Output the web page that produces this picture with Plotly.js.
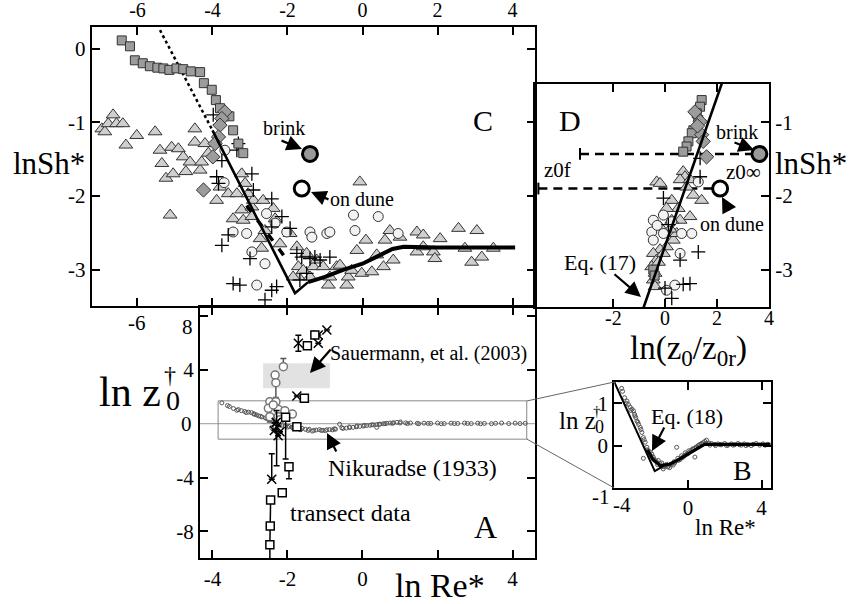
<!DOCTYPE html>
<html>
<head>
<meta charset="utf-8">
<script src="https://cdn.plot.ly/plotly-3.0.1.min.js"></script>
<style>html,body{margin:0;padding:0;background:#fff;}#fig{width:857px;height:604px;}</style>
</head>
<body>
<div id="fig"></div>
<script>
// ---------- Panel C: lnSh* versus ln Re* ----------
const cSqX = [-6.42, -6.2, -6.07, -5.86, -5.67, -5.47, -5.31, -5.15, -4.96, -4.78, -4.58, -4.33, -4.23, -4.02, -3.91, -3.8, -3.55, -3.45, -3.31, -3.18];
const cSqY = [0.11, 0.03, -0.16, -0.2, -0.24, -0.26, -0.27, -0.29, -0.27, -0.28, -0.31, -0.32, -0.47, -0.56, -0.7, -0.81, -0.92, -1.11, -1.29, -1.42];
const cDiaX = [-3.67, -3.75, -3.8, -3.84, -3.93, -3.99, -4.24];
const cDiaY = [-0.86, -0.95, -1.04, -1.2, -1.29, -1.47, -1.92];
const cTriX = [-6.95, -6.87, -6.78, -6.65, -6.56, -6.39, -6.31, -6.02, -5.53, -5.4, -5.35, -5.24, -5.09, -5.05, -4.91, -4.78, -4.71, -4.6, -4.47, -4.47, -4.33, -4.29, -4.2, -4.11, -5.13, -3.89, -3.8, -3.58, -3.35, -3.22, -3.13, -3.05, -3.45, -3.22, -3.18, -2.95, -2.95, -2.91, -2.65, -2.73, -2.69, -2.6, -2.38, -2.33, -2.2, -1.93, -1.75, -1.71, -1.71, -1.58, -1.49, -1.4, -1.31, -1.22, -1.05, -0.91, -0.87, -0.69, -0.6, -0.42, -0.38, -0.29, -0.15, -0.02, -0.07, 0.09, 0.25, 0.38, 0.56, 0.6, 0.73, 0.82, 1.0, 1.45, 1.45, 1.62, 1.62, 1.89, 1.93, 2.07, 2.56, 2.73, 2.91, 3.05, 3.18, 3.49, -1.85];
const cTriY = [-1.09, -1.13, -1.02, -0.9, -1.02, -1.02, -1.31, -1.18, -1.13, -1.38, -1.56, -1.76, -1.34, -1.7, -1.36, -1.47, -1.67, -1.54, -1.09, -1.27, -1.65, -1.54, -1.29, -1.42, -2.26, -2.06, -1.88, -1.97, -1.97, -1.7, -1.83, -1.97, -2.31, -2.19, -2.33, -2.15, -2.28, -2.06, -2.06, -2.58, -2.71, -2.47, -2.17, -2.31, -2.65, -2.51, -2.69, -2.96, -3.1, -3.01, -2.78, -3.1, -2.96, -2.87, -2.96, -3.21, -3.1, -2.96, -2.94, -3.21, -3.1, -3.01, -2.74, -3.05, -1.81, -2.6, -3.03, -2.8, -2.96, -2.6, -2.47, -2.87, -2.56, -2.49, -2.76, -2.53, -2.69, -2.76, -2.85, -2.58, -2.44, -2.71, -2.9, -2.47, -2.83, -2.71, -3.1];
const cCircX = [-3.67, -3.69, -3.45, -3.09, -2.95, -2.6, -2.82, -2.56, -2.33, -2.02, -1.4, -1.35, -0.95, -0.87, -0.24, -0.2, 0.42, 0.95];
const cCircY = [-1.38, -1.82, -2.49, -2.51, -2.76, -2.92, -3.21, -2.24, -2.37, -2.49, -2.49, -2.56, -2.51, -2.49, -2.26, -2.47, -2.28, -2.51];
const cPlusX = [-3.98, -3.35, -3.31, -3.75, -3.89, -3.84, -2.95, -2.91, -2.42, -2.15, -1.93, -2.42, -3.58, -3.75, -3.0, -1.75, -1.62, -1.4, -1.27, -1.13, -0.87, -3.45, -3.27, -2.42, -2.29, -2.6, -1.67, -1.49];
const cPlusY = [-0.9, -1.38, -1.29, -1.52, -1.74, -1.83, -1.7, -1.92, -2.04, -2.28, -2.44, -2.42, -2.53, -2.67, -2.85, -2.78, -2.83, -2.85, -2.83, -2.87, -2.83, -3.19, -3.21, -3.28, -3.23, -3.41, -3.14, -3.05];
const brinkReX = [-1.4], brinkShY = [-1.43];
const duneReX = [-1.62], duneShY = [-1.9];
// fitted curve (Eq. 17 mapped onto Re*), its extension and the dashed branch
const cFitThinX = [-4.0, -1.8, -1.45];
const cFitThinY = [-1.11, -3.32, -3.17];
const cFitThickX = [-1.45, -1.0, -0.5, 0.0, 0.4, 0.8, 1.1, 2.0, 4.07];
const cFitThickY = [-3.17, -3.1, -3.0, -2.92, -2.82, -2.72, -2.69, -2.7, -2.7];
const cDotX = [-5.4, -4.0];
const cDotY = [0.25, -1.11];
const cDashX = [-3.09, -1.98];
const cDashY = [-2.13, -2.89];
const cTopTicks = [-6, -4, -2, 0, 2, 4];
const cYTicks = [0, -1, -2, -3];

// ---------- Panel D: lnSh* versus ln(z0/z0r) ----------
const dSqX = [1.41, 1.35, 1.22, 1.28, 1.09, 1.03, 0.9, 0.83, 0.7, -0.45, -0.4];
const dSqY = [-0.7, -0.79, -0.88, -0.97, -1.11, -1.15, -1.26, -1.33, -1.4, -3.0, -3.08];
const dDiaX = [1.15, 1.35, 1.41, 1.47, 1.6, 1.25];
const dDiaY = [-0.86, -0.99, -1.17, -1.26, -1.47, -1.05];
const dTriX = [-0.32, -0.19, 0.7, 0.77, 0.58, 0.96, 0.83, 1.09, 1.41, 0.26, 0.51, 0.06, 0.96, 0.58, 0.26, -0.19, 0.32, 0.06, -0.19, -0.45, -0.32, -0.51, -0.38, -0.45, -0.38, -0.06, 0.45, 0.2, -0.25];
const dTriY = [-1.81, -1.83, -1.67, -1.74, -1.78, -1.78, -1.88, -1.99, -2.06, -2.06, -2.17, -2.17, -2.28, -2.33, -2.33, -2.42, -2.6, -2.69, -2.73, -2.78, -2.87, -2.96, -3.05, -3.14, -3.23, -2.78, -2.51, -2.45, -2.9];
const dCircX = [1.28, -0.06, -0.45, -0.51, -0.06, 0.64, 1.03, -0.45, 0.58, 0.38, 0.06, -0.3, 0.25];
const dCircY = [-1.81, -2.26, -2.33, -2.49, -2.51, -2.51, -2.51, -2.6, -2.78, -3.21, -3.28, -2.4, -2.35];
const dPlusX = [-0.06, 0.13, 1.28, 0.58, 0.96, 0.26, 1.35, 1.35, 0.0, 0.7];
const dPlusY = [-2.03, -2.39, -2.76, -2.87, -3.19, -3.39, -1.49, -1.74, -3.25, -3.2];
const dFitX = [-0.9, 2.25];
const dFitY = [-3.59, -0.41];
const brinkZX = [3.63], duneZX = [2.12];
const z0fStartBrink = -3.27, z0fStartDune = -4.87;
const dXTicks = [-2, 0, 2, 4];
const dYTicks = [-1, -2, -3];

// ---------- Panel A and B: ln z0+ versus ln Re* ----------
// Nikuradse (1933) sand-roughened pipe data
const nikX = [-3.75, -3.55, -3.44, -3.31, -3.23, -3.14, -3.04, -2.96, -2.9, -2.83, -2.77, -2.68, -2.59, -2.5, -2.42, -2.32, -2.23, -2.15, -2.42, -2.05, -1.96, -1.88, -1.78, -1.7, -1.61, -1.52, -1.42, -1.34, -1.24, -1.15, -1.06, -0.99, -0.88, -0.8, -0.72, -0.61, -0.52, -0.43, -0.34, -0.25, -0.16, -0.07, 0.02, 0.11, 0.2, 0.29, 0.38, 0.38, 0.47, 0.56, 0.65, 0.74, 0.83, 0.92, 1.01, 1.15, 1.28, 1.46, 1.64, 1.82, 2.0, 2.18, 2.36, 2.54, 2.72, 2.9, 3.07, 3.25, 3.44, 3.71, 3.9, 4.07, 4.34,
  -3.6, -3.35, -3.1, -2.88, -2.72, -2.55, -2.38, -2.2, -2.0, -1.85, -1.65, -1.45, -1.3, -1.1, -0.95, -0.75, -0.55, -0.35, -0.15, 0.05, 0.25, 0.45, 0.6, 0.8, 1.0, 1.2, 1.5, 1.75, 2.1, 2.45, 2.8, 3.15, 3.55, 4.2];
const nikY = [1.55, 1.28, 1.13, 1.05, 0.97, 0.91, 0.86, 0.82, 0.74, 0.66, 0.58, 0.5, 0.43, 0.31, 0.19, 0.08, -0.04, -0.12, -0.3, -0.15, -0.2, -0.27, -0.35, -0.38, -0.35, -0.42, -0.41, -0.55, -0.47, -0.44, -0.49, -0.52, -0.44, -0.46, -0.41, -0.04, -0.35, -0.33, -0.29, -0.27, -0.23, -0.2, -0.18, -0.14, -0.12, -0.08, -0.06, -0.27, -0.03, 0.0, 0.03, 0.05, 0.07, 0.1, 0.13, 0.06, 0.05, 0.03, 0.04, 0.02, 0.05, 0.01, 0.04, 0.02, 0.05, 0.01, 0.04, 0.02, 0.0, 0.05, 0.01, 0.04, 0.03,
  1.35, 1.0, 0.83, 0.7, 0.55, 0.38, 0.14, -0.1, -0.25, -0.32, -0.45, -0.5, -0.5, -0.5, -0.45, -0.38, -0.3, -0.24, -0.17, -0.12, -0.08, -0.04, 0.0, 0.03, 0.05, 0.01, 0.0, 0.02, 0.0, 0.01, 0.02, 0.0, 0.03, 0.01];
// Eq. (18)
const bFitThinX = [-4.0, -1.8, -1.2];
const bFitThinY = [1.5, -0.6, -0.45];
const bFitThickX = [-2.2, -1.9, -1.5, -1.0, -0.5, 0.0, 0.5, 0.9, 1.5, 4.5];
const bFitThickY = [-0.1, -0.33, -0.47, -0.44, -0.33, -0.2, -0.06, 0.03, 0.03, 0.03];
// field estimates
const aCircX = [-2.11, -2.33, -2.31, -2.47, -2.31, -2.51, -2.25, -2.07, -1.87, -2.47, -2.25, -2.38, -2.2];
const aCircY = [4.24, 3.62, 3.05, 1.64, 1.64, 1.14, 1.07, 0.97, 0.72, 0.52, 0.52, 1.4, 0.3];
const aCircUp = [0.6, 0, 0, 0, 0, 0, 0, 0, 0, 0, 0, 0, 0];
const aCircDn = [0, 0, 1.1, 0, 0, 0, 0, 0, 0, 0.4, 0, 0, 0];
const aSqX = [-1.27, -1.47, -1.55, -2.05, -1.75, -1.96, -2.14];
const aSqY = [6.6, 5.8, 1.89, 0.48, -0.22, -3.2, -5.13];
const aSqUp = [0, 0, 0, 0, 0, 0, 0];
const aSqDn = [0, 0, 0, 3.1, 0, 0.9, 0];
const transX = [-2.45, -2.46, -2.47];
const transY = [-5.67, -7.6, -9.0];
const aXX = [-0.95, -1.18, -1.18, -1.71, -1.75, -2.42, -2.29, -2.35, -2.25, -2.3, -2.2];
const aXY = [6.97, 6.6, 5.98, 5.98, 2.06, -4.13, -0.22, -0.5, -0.9, 0.1, -0.6];
const aXUp = [0, 0, 0, 0.6, 0, 1.9, 1.2, 0, 0, 0, 0];
const aXDn = [0, 0, 0, 0.6, 0, 0, 2.9, 0, 0, 0, 0];
const sauerRe = [-2.65, -0.87], sauerZ = [2.63, 4.49];
const zoomRe = [-3.85, 4.38], zoomZ = [-1.15, 1.7];
const aXTicks = [-4, -2, 0, 2, 4], aXText = ['-4', '-2', '0', '', '4'];
const aYTicks = [-8, -4, 4, 8], aYText = ['-8', '-4', '4', ''];
const bXTicks = [-4, 0, 4], bXText = ['', '0', '4'];
const bYTicks = [0, 1];

const W = 857, H = 604;
const SERIF = 'Liberation Serif';
const EDGE = '#333';

function axisBase(extra) {
  return Object.assign({
    showline: true, linecolor: '#000', linewidth: 2, mirror: 'allticks',
    ticks: 'inside', ticklen: 8, tickwidth: 2, tickcolor: '#000',
    showgrid: false, zeroline: false, fixedrange: true,
    tickfont: {family: SERIF, size: 21, color: '#000'}
  }, extra);
}
function pv(px, py) { return {x: px / W, y: 1 - py / H, xref: 'paper', yref: 'paper'}; }
function label(text, px, py, size, extra) {
  return Object.assign(pv(px, py), {text: text, showarrow: false, xanchor: 'center', yanchor: 'middle',
    font: {family: SERIF, size: size, color: '#000'}}, extra || {});
}
function arrow(tx, ty, hx, hy) {
  return Object.assign(pv(hx, hy), {text: '', showarrow: true, arrowhead: 2, arrowsize: 1.4,
    arrowwidth: 2.2, arrowcolor: '#000', ax: tx - hx, ay: ty - hy, standoff: 0});
}

function mk(x, y, xa, ya, symbol, size, fill, extra) {
  return Object.assign({x: x, y: y, xaxis: xa, yaxis: ya, type: 'scatter', mode: 'markers',
    marker: {symbol: symbol, size: size, color: fill, line: {color: EDGE, width: 1}}, hoverinfo: 'skip'}, extra || {});
}
function ln(x, y, xa, ya, width, dash) {
  return {x: x, y: y, xaxis: xa, yaxis: ya, type: 'scatter', mode: 'lines',
    line: {color: '#000', width: width, dash: dash || 'solid'}, hoverinfo: 'skip'};
}

const traces = [
  // C
  ln(cDotX, cDotY, 'x', 'y', 2.5, 'dot'),
  mk(cTriX, cTriY, 'x', 'y', 'triangle-up', 12, '#cfcfcf'),
  mk(cCircX, cCircY, 'x', 'y', 'circle', 10, '#f2f2f2'),
  mk(cPlusX, cPlusY, 'x', 'y', 'cross-thin', 10, '#000', {marker: {symbol: 'cross-thin', size: 10, line: {color: '#000', width: 1.3}}}),
  mk(cSqX, cSqY, 'x', 'y', 'square', 9, '#9c9c9c'),
  mk(cDiaX, cDiaY, 'x', 'y', 'diamond', 11, '#9c9c9c'),
  ln(cFitThinX, cFitThinY, 'x', 'y', 2.6),
  ln(cFitThickX, cFitThickY, 'x', 'y', 4),
  ln(cDashX, cDashY, 'x', 'y', 3.5, '8px,10px'),
  mk(brinkReX, brinkShY, 'x', 'y', 'circle', 15, '#999', {marker: {symbol: 'circle', size: 15, color: '#999', line: {color: '#000', width: 3}}}),
  mk(duneReX, duneShY, 'x', 'y', 'circle', 15, '#fff', {marker: {symbol: 'circle', size: 15, color: '#fff', line: {color: '#000', width: 3}}}),
  // D
  ln([z0fStartBrink, brinkZX[0]], [brinkShY[0], brinkShY[0]], 'x2', 'y2', 2.5, '9px,6px'),
  ln([z0fStartDune, duneZX[0]], [duneShY[0], duneShY[0]], 'x2', 'y2', 2.5, '9px,6px'),
  ln([z0fStartBrink, z0fStartBrink], [brinkShY[0] + 0.08, brinkShY[0] - 0.08], 'x2', 'y2', 2),
  ln([z0fStartDune, z0fStartDune], [duneShY[0] + 0.08, duneShY[0] - 0.08], 'x2', 'y2', 2),
  mk(dTriX, dTriY, 'x2', 'y2', 'triangle-up', 12, '#cfcfcf'),
  mk(dCircX, dCircY, 'x2', 'y2', 'circle', 10, '#f2f2f2'),
  mk(dPlusX, dPlusY, 'x2', 'y2', 'cross-thin', 10, '#000', {marker: {symbol: 'cross-thin', size: 10, line: {color: '#000', width: 1.3}}}),
  mk(dSqX, dSqY, 'x2', 'y2', 'square', 9, '#9c9c9c'),
  mk(dDiaX, dDiaY, 'x2', 'y2', 'diamond', 11, '#9c9c9c'),
  ln(dFitX, dFitY, 'x2', 'y2', 2.6),
  mk(brinkZX, brinkShY, 'x2', 'y2', 'circle', 15, '#999', {marker: {symbol: 'circle', size: 15, color: '#999', line: {color: '#000', width: 3}}}),
  mk(duneZX, duneShY, 'x2', 'y2', 'circle', 15, '#fff', {marker: {symbol: 'circle', size: 15, color: '#fff', line: {color: '#000', width: 3}}}),
  // A
  mk(nikX, nikY, 'x3', 'y3', 'circle-open', 4, '#555', {marker: {symbol: 'circle-open', size: 4, color: '#555', line: {width: 1}}}),
  mk(aCircX, aCircY, 'x3', 'y3', 'circle', 8, '#fff', {marker: {symbol: 'circle', size: 8, color: '#fff', line: {color: '#777', width: 1.5}},
    error_y: {type: 'data', symmetric: false, array: aCircUp, arrayminus: aCircDn, color: '#555', thickness: 1.5, width: 3}}),
  mk(transX, transY, 'x3', 'y3', 'square', 8, '#fff', {mode: 'lines+markers', line: {color: '#000', width: 1.5},
    marker: {symbol: 'square', size: 8, color: '#fff', line: {color: '#000', width: 1.5}},
    error_y: {type: 'data', symmetric: false, array: [0, 0, 0], arrayminus: [0, 0, 1.5], color: '#000', thickness: 1.5, width: 0}}),
  mk(aXX, aXY, 'x3', 'y3', 'x-thin', 9, '#000', {marker: {symbol: 'x-thin', size: 9, line: {color: '#000', width: 1.5}},
    error_y: {type: 'data', symmetric: false, array: aXUp, arrayminus: aXDn, color: '#000', thickness: 1.5, width: 3}}),
  mk(aSqX, aSqY, 'x3', 'y3', 'square', 8, '#fff', {marker: {symbol: 'square', size: 8, color: '#fff', line: {color: '#000', width: 1.5}},
    error_y: {type: 'data', symmetric: false, array: aSqUp, arrayminus: aSqDn, color: '#000', thickness: 1.5, width: 3}}),
  // B
  mk(nikX, nikY, 'x4', 'y4', 'circle-open', 4, '#555', {marker: {symbol: 'circle-open', size: 4, color: '#555', line: {width: 1}}}),
  ln(bFitThinX, bFitThinY, 'x4', 'y4', 2),
  ln(bFitThickX, bFitThickY, 'x4', 'y4', 3.2)
];

// D's bottom tick labels sit tight under the frame, above the axis title
const dTickLabels = dXTicks.map(v => ({x: v, xref: 'x2', y: 1 - 318 / H, yref: 'paper', text: String(v),
  showarrow: false, xanchor: 'center', yanchor: 'middle', font: {family: SERIF, size: 20, color: '#000'}}));

const layout = {
  width: W, height: H, margin: {l: 0, r: 0, t: 0, b: 0},
  paper_bgcolor: '#fff', plot_bgcolor: 'rgba(0,0,0,0)', showlegend: false,
  xaxis: axisBase({domain: [91.7 / W, 535 / W], range: [-7.221, 4.6], anchor: 'y', side: 'top',
    tickmode: 'array', tickvals: cTopTicks, ticktext: cTopTicks.map(String), tickfont: {family: SERIF, size: 20, color: '#000'}}),
  yaxis: axisBase({domain: [1 - 306 / H, 1 - 27.3 / H], range: [-3.494, 0.288], anchor: 'x',
    tickmode: 'array', tickvals: cYTicks, ticktext: cYTicks.map(String)}),
  xaxis2: axisBase({domain: [535 / W, 769 / W], range: [-5, 4], anchor: 'y2',
    tickmode: 'array', tickvals: dXTicks, ticktext: dXTicks.map(() => '')}),
  yaxis2: axisBase({domain: [1 - 307 / H, 1 - 84 / H], range: [-3.507, -0.482], anchor: 'x2', side: 'right', mirror: true,
    tickmode: 'array', tickvals: dYTicks, ticktext: dYTicks.map(String)}),
  xaxis3: axisBase({domain: [200 / W, 535 / W], range: [-4.333, 4.6], anchor: 'y3',
    tickmode: 'array', tickvals: aXTicks, ticktext: aXText}),
  yaxis3: axisBase({domain: [1 - 558.3 / H, 1 - 307 / H], range: [-10.007, 8.677], anchor: 'x3',
    tickmode: 'array', tickvals: aYTicks, ticktext: aYText}),
  xaxis4: axisBase({domain: [614.3 / W, 770.7 / W], range: [-4, 4.5], anchor: 'y4',
    tickmode: 'array', tickvals: bXTicks, ticktext: bXText}),
  yaxis4: axisBase({domain: [1 - 488 / H, 1 - 382 / H], range: [-1, 1.5], anchor: 'x4',
    tickmode: 'array', tickvals: bYTicks, ticktext: bYTicks.map(String)}),
  shapes: [
    {type: 'rect', xref: 'x3', yref: 'y3', x0: sauerRe[0], x1: sauerRe[1], y0: sauerZ[0], y1: sauerZ[1],
      fillcolor: '#e2e2e2', line: {width: 0}, layer: 'below'},
    {type: 'line', xref: 'x3', yref: 'y3', x0: -4.333, x1: 4.6, y0: 0, y1: 0, line: {color: '#999', width: 1}, layer: 'below'},
    {type: 'rect', xref: 'x3', yref: 'y3', x0: zoomRe[0], x1: zoomRe[1], y0: zoomZ[0], y1: zoomZ[1],
      line: {color: '#888', width: 1}, layer: 'below'},
    {type: 'line', xref: 'paper', yref: 'paper', x0: 526.7 / W, y0: 1 - 401 / H, x1: 614.3 / W, y1: 1 - 382 / H, line: {color: '#666', width: 1}},
    {type: 'line', xref: 'paper', yref: 'paper', x0: 526.7 / W, y0: 1 - 439 / H, x1: 614.3 / W, y1: 1 - 488 / H, line: {color: '#666', width: 1}}
  ],
  annotations: dTickLabels.concat([
    // panel C
    label('lnSh*', 49, 163, 31),
    label('C', 483, 120, 30),
    label('brink', 284, 128, 20),
    label('on dune', 362, 199, 20),
    arrow(280, 140, 302, 149),
    arrow(330, 200, 311, 192),
    label('-6', 137, 323, 21),
    // panel D
    label('D', 570, 120, 30),
    label('lnSh*', 811, 163, 31),
    label('brink', 737, 132, 20),
    label('z0f', 557, 170, 21),
    label('z0∞', 743, 172, 21),
    label('on dune', 732, 224, 20),
    label('Eq. (17)', 600, 262, 22),
    arrow(733, 142, 754, 150),
    arrow(730, 212, 722, 197),
    arrow(613, 273, 641, 297),
    label('ln(z<sub>0</sub>/z<sub>0r</sub>)', 688, 350, 33),
    // panel A
    label('ln z', 130, 392, 42),
    label('0', 173, 400, 28),
    label('†', 170, 375, 24),
    label('8', 187, 327, 21),
    label('0', 186, 424, 21),
    label('Sauermann, et al. (2003)', 428, 353, 20),
    arrow(332, 348, 310, 373),
    label('Nikuradse (1933)', 412, 468, 24),
    arrow(337, 453, 327, 433),
    label('transect data', 350, 513, 24),
    label('A', 485, 527, 32),
    label('ln Re*', 440, 585, 34),
    // panel B
    label('ln z', 577, 421, 25),
    label('0', 599, 427, 18),
    label('†', 597, 411, 15),
    label('-1', 601, 497, 21),
    label('-4', 622, 505, 21),
    label('Eq. (18)', 687, 416, 22),
    arrow(665, 426, 652, 451),
    label('B', 742, 470, 28),
    label('ln Re*', 725, 527, 23)
  ])
};

Plotly.newPlot('fig', traces, layout, {staticPlot: true, displayModeBar: false});
</script>
</body>
</html>
